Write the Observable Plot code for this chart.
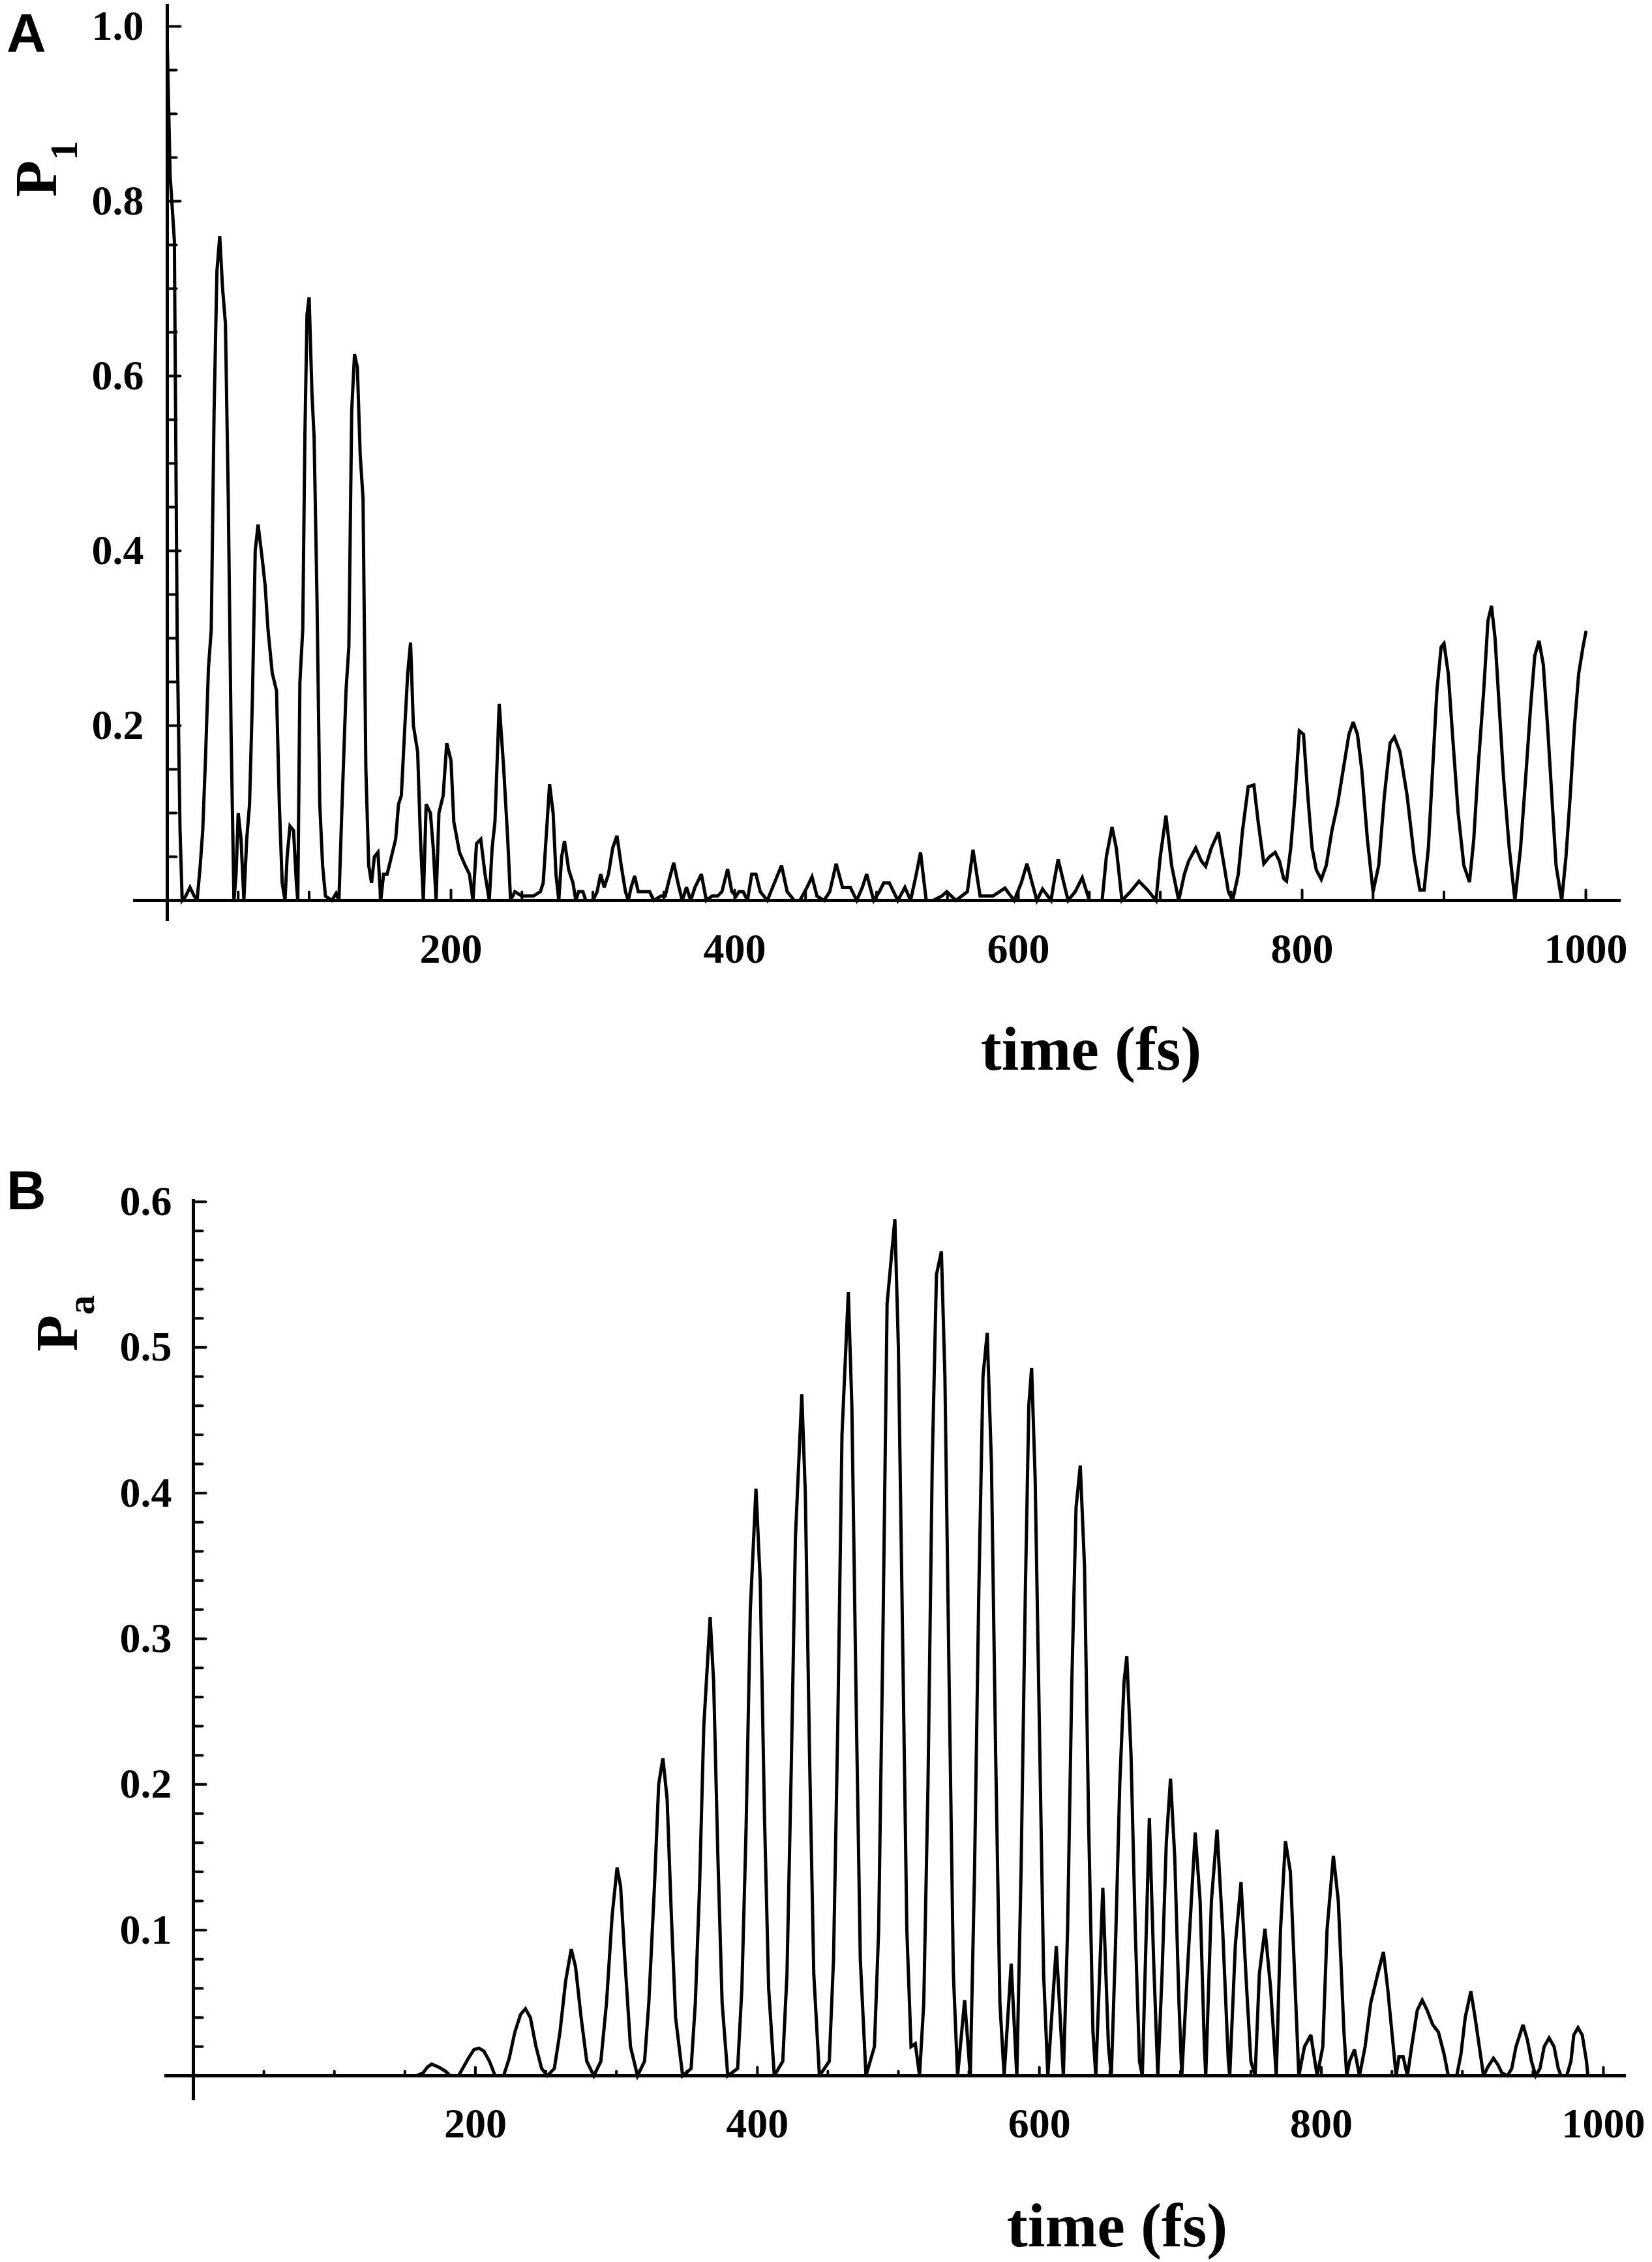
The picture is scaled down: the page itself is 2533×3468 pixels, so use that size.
<!DOCTYPE html>
<html>
<head>
<meta charset="utf-8">
<script src="https://cdn.jsdelivr.net/npm/d3@7"></script>
<script src="https://cdn.jsdelivr.net/npm/@observablehq/plot@0.6"></script>
<style>
  html, body { margin: 0; padding: 0; background: #fff; }
  #wrap { position: relative; width: 2533px; height: 3468px; overflow: hidden; background: #fff; }
  #wrap svg { display: block; max-width: none; }
</style>
</head>
<body>
<div id="wrap"></div>
<script>
// ---------- data ----------
// Panel A: P1 vs time (fs)  [time, value]
const p1Points = [
[0,0.98],[2,0.83],[5,0.755],[7,0.30],[9,0.08],[10.5,0],[13,0.005],[16,0.015],[19,0.005],[21,0],
[23,0.035],[25,0.08],[27,0.165],[29,0.265],[31,0.31],[33,0.56],[35,0.72],[37,0.76],[39,0.70],[41,0.66],
[43,0.46],[45,0.19],[47,0],[48.5,0.03],[50,0.10],[52,0.07],[54,0],[56,0.07],[58,0.11],[60,0.23],
[62,0.40],[64,0.43],[67,0.39],[69,0.36],[71,0.31],[74,0.26],[77,0.24],[79,0.11],[81,0.02],[83,0],
[84.5,0.05],[86.5,0.085],[89,0.08],[91,0.02],[92,0],[93.5,0.25],[95.5,0.31],[97,0.53],[98.5,0.67],[100,0.69],
[102,0.58],[103.5,0.53],[105.5,0.35],[107.5,0.11],[109.5,0.04],[111.5,0.005],[116,0],[119,0.008],[121,0],[123,0.1],
[126,0.24],[128,0.29],[130,0.56],[132,0.625],[134,0.61],[136,0.51],[138,0.46],[140,0.15],[142,0.04],[144,0.02],
[146,0.05],[148.5,0.055],[150.5,0],[152.5,0.03],[155,0.03],[158,0.05],[161,0.07],[163,0.11],[165,0.12],[167.5,0.2],
[169.5,0.26],[171.5,0.295],[173.5,0.2],[176.5,0.17],[178.5,0.07],[180.5,0],[182.5,0.11],[185.5,0.1],[187.5,0.06],[189.5,0],
[191.5,0.1],[194.5,0.12],[197,0.18],[200,0.16],[202,0.09],[206,0.055],[210,0.04],[213,0.03],[215.5,0],[218,0.065],
[221,0.07],[224,0.03],[227,0],[229,0.06],[231,0.09],[234,0.225],[237,0.155],[240,0.07],[242,0],[245,0.01],
[250,0.005],[258,0.005],[263,0.01],[265,0.02],[267,0.07],[269.5,0.133],[272,0.1],[274,0.03],[276,0],[278,0.05],
[280,0.068],[283,0.035],[286,0.02],[288,0],[290,0.01],[293,0.01],[295,0],[300,0],[303,0.01],[305.5,0.03],
[308,0.015],[311,0.03],[314,0.06],[317,0.074],[320,0.04],[323,0.01],[325,0],[327,0.015],[329.5,0.028],[332,0.01],
[336,0.01],[340,0.01],[343,0],[348,0.005],[351,0.005],[354,0.025],[357,0.043],[360,0.02],[363,0],[366,0.015],
[369,0],[372,0.015],[376.5,0.03],[380,0],[384,0.005],[388,0.005],[391,0.01],[395,0.036],[398,0.01],[401,0.005],
[403,0.01],[406,0.01],[409,0],[412,0.03],[415,0.03],[418,0.01],[423,0],[428,0.02],[433,0.04],[437,0.01],
[442,0],[446,0],[451,0.015],[454.5,0.027],[458,0.005],[463,0],[467,0.01],[471.5,0.042],[476,0.015],[481.5,0.015],
[486,0],[490,0.015],[493,0.03],[498,0],[502,0.01],[505,0.02],[509,0.02],[515,0],[520,0.015],[524,0],
[528,0.03],[531,0.055],[535,0],[540,0],[546,0.005],[549.5,0.01],[556,0],[564,0.01],[568,0.058],[573,0.005],
[582,0.005],[590.5,0.014],[597,0],[602,0.02],[606,0.042],[613,0],[617,0.013],[623,0],[625,0.02],[628,0.047],
[632,0.02],[635,0],[640,0.01],[645,0.026],[650,0],[659,0],[662,0.05],[666,0.084],[669,0.06],[673,0],
[679,0.01],[685,0.022],[691,0.012],[697,0],[700,0.05],[704,0.097],[708,0.04],[713,0],[717,0.03],[720,0.045],
[725,0.06],[729,0.045],[732,0.039],[736,0.06],[741,0.078],[745,0.04],[748,0.01],[751,0],[755,0.03],[758,0.08],
[762,0.13],[766,0.132],[769,0.09],[773,0.042],[777,0.05],[781,0.055],[784,0.045],[787,0.025],[789,0.022],[792,0.06],
[795,0.12],[798,0.194],[801,0.19],[804,0.12],[807,0.06],[810,0.035],[813.5,0.024],[817,0.04],[821,0.08],[825,0.11],
[829,0.15],[833,0.19],[836,0.204],[839,0.19],[842,0.15],[846,0.07],[850,0.01],[854,0.04],[858,0.12],[862,0.18],
[865,0.187],[869,0.17],[874,0.12],[879,0.05],[883,0.012],[886,0.012],[889,0.06],[892,0.15],[895,0.24],[898,0.29],
[900,0.294],[903,0.26],[906,0.19],[910,0.1],[914,0.04],[918,0.021],[921,0.07],[924,0.15],[928,0.24],[931,0.32],
[933.5,0.337],[936,0.3],[939,0.22],[942,0.14],[946,0.06],[950,0],[954,0.06],[958,0.15],[961,0.22],[964,0.28],
[967,0.297],[970,0.27],[973,0.2],[976,0.12],[979,0.04],[983,0],[986,0.05],[989,0.12],[992,0.2],[995,0.26],
[998,0.29],[1000,0.307]
];

// Panel B: Pa vs time (fs)  [time, value]
const paPoints = [
[0,0],[158,0],[163,0.002],[166,0.006],[169,0.008],[174,0.006],[179,0.003],[182,0],[188,0],[191,0.005],
[195,0.012],[199,0.018],[202.5,0.019],[206,0.017],[210,0.01],[214,0],[220,0],[224,0.012],[228,0.03],[232,0.042],
[235.5,0.046],[239,0.04],[243,0.02],[247,0.005],[251,0],[256,0.005],[260,0.03],[264,0.065],[268,0.087],[271,0.075],
[275,0.04],[279,0.01],[284,0],[289,0.01],[293,0.05],[297,0.11],[300.5,0.143],[303,0.13],[306,0.08],[310,0.02],
[315,0],[320,0.01],[323,0.05],[327,0.13],[330,0.2],[333,0.218],[336,0.19],[339,0.11],[342,0.04],[347,0],
[353,0.005],[356,0.05],[359,0.13],[362,0.24],[366.5,0.315],[369,0.27],[372,0.15],[375,0.05],[379,0],[386,0.005],
[389,0.06],[392,0.17],[395,0.32],[399,0.403],[402,0.34],[405,0.18],[408,0.06],[412,0],[418,0.01],[421,0.07],
[424,0.21],[427,0.37],[431.5,0.468],[434,0.4],[437,0.22],[440,0.07],[444,0],[451,0.01],[454,0.08],[457,0.24],
[460,0.44],[464.5,0.538],[467,0.46],[470,0.26],[473,0.08],[477,0],[483,0.02],[486,0.1],[489,0.3],[492,0.53],
[497.5,0.588],[500,0.5],[503,0.3],[506,0.1],[509,0.02],[512,0.022],[515,0],[518,0.05],[521,0.2],[524,0.42],
[527,0.55],[530.5,0.566],[533,0.48],[536,0.27],[539,0.07],[542,0],[547,0.052],[551,0],[554,0.14],[557,0.33],
[560,0.48],[563,0.51],[566,0.42],[569,0.22],[572,0.05],[575,0],[580,0.077],[584,0],[587,0.14],[590,0.33],
[592.5,0.46],[594.5,0.486],[597,0.41],[600,0.24],[603,0.07],[606,0],[612,0.089],[617,0],[620,0.1],[623,0.27],
[626,0.39],[629,0.419],[632,0.35],[635,0.17],[638,0.03],[640,0],[645,0.129],[649,0.02],[651,0],[654,0.09],
[657,0.2],[660,0.27],[662,0.288],[665,0.22],[668,0.1],[671,0.01],[673,0],[678,0.177],[681,0.08],[684,0],
[687,0.07],[690,0.16],[693,0.204],[696,0.15],[699,0.05],[701,0],[706,0.09],[710.5,0.167],[714,0.12],[717,0.02],
[718,0],[722,0.12],[726,0.169],[730,0.1],[734,0.01],[735,0],[739,0.09],[743,0.133],[747,0.06],[750,0.01],
[753,0],[756,0.07],[760,0.101],[764,0.06],[768,0],[771,0.1],[774.5,0.161],[778,0.14],[781,0.07],[784,0],
[788,0.02],[792.5,0.028],[797,0],[801,0.02],[804,0.1],[808.5,0.151],[812,0.12],[816,0.03],[818,0],[820,0.01],
[823.5,0.018],[827,0],[831,0.02],[835,0.05],[840,0.07],[844,0.085],[847,0.06],[851,0.02],[853,0],[855,0.013],
[858,0.013],[861,0],[864,0.02],[868,0.045],[871.5,0.052],[875,0.045],[879,0.035],[883,0.03],[887,0.015],[890,0],
[896,0],[899,0.015],[902,0.04],[906,0.058],[909,0.04],[912,0.02],[915,0],[918,0.006],[922,0.012],[925,0.008],
[928,0.002],[932,0],[935,0.005],[938,0.02],[943,0.035],[946,0.025],[949,0.01],[952,0],[955,0.005],[958,0.02],
[961.5,0.026],[965,0.02],[968,0.005],[970,0],[974,0],[977,0.01],[979,0.028],[982,0.033],[985,0.028],[988,0.01],
[989,0],[1000,0]
];

// tick values / labels
const xTickLabels = [200, 400, 600, 800, 1000];
const xTickAll = [50,100,150,200,250,300,350,400,450,500,550,600,650,700,750,800,850,900,950,1000];
const yTickLabelsA = [0.2, 0.4, 0.6, 0.8, 1.0];
const yMinorA = [0.05,0.1,0.15,0.25,0.3,0.35,0.45,0.5,0.55,0.65,0.7,0.75,0.85,0.9,0.95];
const yTickLabelsB = [0.1, 0.2, 0.3, 0.4, 0.5, 0.6];
const yMinorB = [0.02,0.04,0.06,0.08,0.12,0.14,0.16,0.18,0.22,0.24,0.26,0.28,0.32,0.34,0.36,0.38,0.42,0.44,0.46,0.48,0.52,0.54,0.56,0.58];

// ---------- drawing ----------
const SERIF = "'Liberation Serif', 'Times New Roman', Times, serif";
const SANS = "'Liberation Sans', Arial, Helvetica, sans-serif";
const tickRight = {draw(ctx, l) { ctx.moveTo(0, 0); ctx.lineTo(l, 0); }};
const tickUp = {draw(ctx, l) { ctx.moveTo(0, 0); ctx.lineTo(0, -l); }};

function panel(cfg) {
  const xMinor = xTickAll.filter(d => !xTickLabels.includes(d));
  const svg = Plot.plot({
    width: 2533,
    height: cfg.height,
    marginLeft: cfg.ml, marginRight: cfg.mr, marginTop: cfg.mt, marginBottom: cfg.mb,
    x: {type: "linear", domain: cfg.xDomain, axis: null},
    y: {type: "linear", domain: cfg.yDomain, axis: null},
    style: {background: "#fff", overflow: "visible", fontFamily: SERIF},
    marks: [
      Plot.ruleY([0], {stroke: "#000", strokeWidth: 5}),
      Plot.ruleX([0], {stroke: "#000", strokeWidth: 5}),
      Plot.vector(cfg.yMinor, {x: () => 0, y: d => d, length: cfg.yMinorLen, anchor: "start", shape: tickRight, stroke: "#000", strokeWidth: 4}),
      Plot.vector(cfg.yLabels, {x: () => 0, y: d => d, length: cfg.yMajorLen, anchor: "start", shape: tickRight, stroke: "#000", strokeWidth: 4}),
      Plot.vector(xMinor, {x: d => d, y: () => 0, length: cfg.xMinorLen, anchor: "start", shape: tickUp, stroke: "#000", strokeWidth: 4}),
      Plot.vector(xTickLabels, {x: d => d, y: () => 0, length: cfg.xMajorLen, anchor: "start", shape: tickUp, stroke: "#000", strokeWidth: 4}),
      Plot.line(cfg.points, {x: d => d[0], y: d => d[1], stroke: "#000", strokeWidth: 5, strokeLinejoin: "miter", strokeMiterlimit: 3}),
      Plot.text(cfg.yLabels, {x: () => 0, y: d => d, text: d => d.toFixed(1), textAnchor: "end", lineAnchor: "middle", dx: cfg.yLabelDx,
        fontSize: 64, fontWeight: "bold", fontFamily: SERIF, fill: "#000"}),
      Plot.text(xTickLabels, {x: d => d, y: () => 0, text: d => String(d), textAnchor: "middle", lineAnchor: "bottom", dy: cfg.xLabelDy,
        fontSize: 64, fontWeight: "bold", fontFamily: SERIF, fill: "#000"})
    ]
  });
  const s = d3.select(svg);
  // panel letter
  s.append("text").attr("x", cfg.letterX).attr("y", cfg.letterY).attr("text-anchor", "start")
    .attr("font-family", SANS).attr("font-weight", "bold").attr("font-size", 84).attr("fill", "#000")
    .text(cfg.letter);
  // x axis title
  s.append("text").attr("x", cfg.titleX).attr("y", cfg.titleY).attr("text-anchor", "middle")
    .attr("font-family", SERIF).attr("font-weight", "bold").attr("font-size", 96).attr("fill", "#000")
    .text("time (fs)");
  // y axis title, rotated with subscript
  const yt = s.append("text")
    .attr("transform", `translate(${cfg.yTitleX},${cfg.yTitleY}) rotate(-90)`)
    .attr("text-anchor", "start")
    .attr("font-family", SERIF).attr("font-weight", "bold").attr("font-size", 92).attr("fill", "#000");
  yt.append("tspan").text("P");
  yt.append("tspan").attr("dy", cfg.subDy).attr("font-size", 60).text(cfg.sub);
  return svg;
}

const wrap = document.getElementById("wrap");

wrap.appendChild(panel({
  letter: "A", letterX: 10, letterY: 80,
  height: 1720, ml: 204, mr: 48, mt: 6, mb: 308,
  xDomain: [-23.9, 1024.8], yDomain: [-0.0239, 1.0254],
  points: p1Points, yLabels: yTickLabelsA, yMinor: yMinorA,
  yMajorLen: 20, yMinorLen: 14, xMajorLen: 16, xMinorLen: 13,
  yLabelDx: -36, xLabelDy: 96,
  titleX: 1673, titleY: 1640,
  yTitleX: 86, yTitleY: 302, sub: "1", subDy: 32
}));

wrap.appendChild(panel({
  letter: "B", letterX: 10, letterY: 134,
  height: 1748, ml: 252, mr: 40, mt: 118, mb: 248,
  xDomain: [-20.35, 1016.2], yDomain: [-0.017, 0.6018],
  points: paPoints, yLabels: yTickLabelsB, yMinor: yMinorB,
  yMajorLen: 19, yMinorLen: 14, xMajorLen: 13, xMinorLen: 7,
  yLabelDx: -33, xLabelDy: 94,
  titleX: 1713, titleY: 1724,
  yTitleX: 118, yTitleY: 352, sub: "a", subDy: 26
}));
</script>
</body>
</html>
